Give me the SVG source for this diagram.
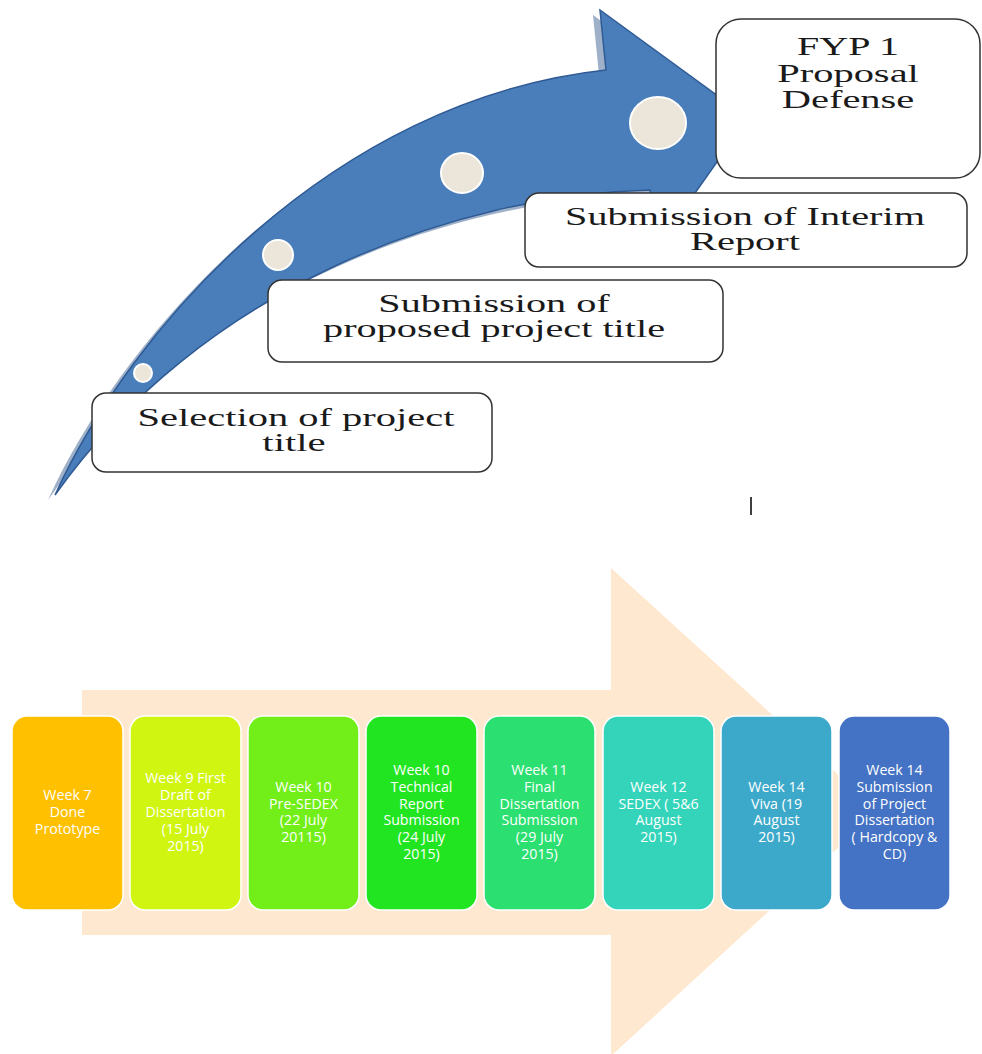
<svg xmlns="http://www.w3.org/2000/svg" width="982" height="1054" viewBox="0 0 982 1054">
<style>
.tb{fill:#ffffff;stroke:#333333;stroke-width:1.5}
.st{font-family:"Liberation Serif","Times New Roman",serif;font-size:25px;fill:#1a1a1a;text-anchor:middle}
.wb{stroke:#ffffff;stroke-width:1.5}
.wt{font-family:"Open Sans","Liberation Sans",sans-serif;font-size:14.2px;fill:#ffffff;text-anchor:middle}
.dot{fill:#ece6da;stroke:#ffffff;stroke-width:2}
</style>
<rect width="982" height="1054" fill="#ffffff"/>
<g id="blue-arrow">
<path transform="translate(-7,5)" d="M55,495 C130,330 330,100 606,70 L600,10 L748,118 L662,240 L650,190 C450,195 200,290 55,495 Z" fill="#9eb1c9"/>
<path d="M55,495 C130,330 330,100 606,70 L600,10 L748,118 L662,240 L650,190 C450,195 200,290 55,495 Z" fill="#4a7ebb" stroke="#2f5a94" stroke-width="1.5"/>
<ellipse class="dot" cx="658" cy="123" rx="28" ry="26"/>
<ellipse class="dot" cx="462" cy="173" rx="21" ry="20"/>
<ellipse class="dot" cx="278" cy="255" rx="15" ry="15"/>
<ellipse class="dot" cx="143" cy="373" rx="9" ry="9"/>
</g>
<g id="node-fyp1">
<rect class="tb" x="716" y="19" width="264" height="159" rx="25"/>
<text class="st" transform="translate(848,55) scale(1.6,1)">FYP 1</text>
<text class="st" transform="translate(848,82) scale(1.62,1)">Proposal</text>
<text class="st" transform="translate(848,108) scale(1.62,1)">Defense</text>
</g>
<g id="node-interim">
<rect class="tb" x="525" y="193" width="442" height="74" rx="14"/>
<text class="st" transform="translate(745,225) scale(1.61,1)">Submission of Interim</text>
<text class="st" transform="translate(745,250) scale(1.62,1)">Report</text>
</g>
<g id="node-proposed">
<rect class="tb" x="268" y="280" width="455" height="82" rx="14"/>
<text class="st" transform="translate(494,312) scale(1.61,1)">Submission of</text>
<text class="st" transform="translate(494,337) scale(1.61,1)">proposed project title</text>
</g>
<g id="node-selection">
<rect class="tb" x="92" y="393" width="400" height="79" rx="14"/>
<text class="st" transform="translate(296,426) scale(1.62,1)">Selection of project</text>
<text class="st" transform="translate(294,451) scale(1.63,1)">title</text>
</g>
<line x1="751" y1="497" x2="751" y2="515" stroke="#000000" stroke-width="1.5"/>
<g id="peach-arrow">
<path d="M82,690 L611,690 L611,568 L878,811 L611,1056 L611,935 L82,935 Z" fill="#fee8cf"/>
</g>
<g id="node-w7">
<rect class="wb" x="12" y="716" width="111" height="194" rx="15" fill="#ffc000"/>
<text class="wt"><tspan x="67.5" y="800">Week 7</tspan><tspan x="67.5" y="817">Done</tspan><tspan x="67.5" y="834">Prototype</tspan></text>
</g>
<g id="node-w9">
<rect class="wb" x="130" y="716" width="111" height="194" rx="15" fill="#d0f510"/>
<text class="wt"><tspan x="185.5" y="783.4">Week 9 First</tspan><tspan x="185.5" y="800.2">Draft of</tspan><tspan x="185.5" y="817">Dissertation</tspan><tspan x="185.5" y="833.8">(15 July</tspan><tspan x="185.5" y="850.6">2015)</tspan></text>
</g>
<g id="node-w10a">
<rect class="wb" x="248" y="716" width="111" height="194" rx="15" fill="#72ee18"/>
<text class="wt"><tspan x="303.5" y="791.8">Week 10</tspan><tspan x="303.5" y="808.6">Pre-SEDEX</tspan><tspan x="303.5" y="825.4">(22 July</tspan><tspan x="303.5" y="842.2">20115)</tspan></text>
</g>
<g id="node-w10b">
<rect class="wb" x="366" y="716" width="111" height="194" rx="15" fill="#22e522"/>
<text class="wt"><tspan x="421.5" y="775">Week 10</tspan><tspan x="421.5" y="791.8">Technical</tspan><tspan x="421.5" y="808.6">Report</tspan><tspan x="421.5" y="825.4">Submission</tspan><tspan x="421.5" y="842.2">(24 July</tspan><tspan x="421.5" y="859">2015)</tspan></text>
</g>
<g id="node-w11">
<rect class="wb" x="484" y="716" width="111" height="194" rx="15" fill="#2be070"/>
<text class="wt"><tspan x="539.5" y="775">Week 11</tspan><tspan x="539.5" y="791.8">Final</tspan><tspan x="539.5" y="808.6">Dissertation</tspan><tspan x="539.5" y="825.4">Submission</tspan><tspan x="539.5" y="842.2">(29 July</tspan><tspan x="539.5" y="859">2015)</tspan></text>
</g>
<g id="node-w12">
<rect class="wb" x="603" y="716" width="111" height="194" rx="15" fill="#33d4b9"/>
<text class="wt"><tspan x="658.5" y="791.8">Week 12</tspan><tspan x="658.5" y="808.6">SEDEX ( 5&amp;6</tspan><tspan x="658.5" y="825.4">August</tspan><tspan x="658.5" y="842.2">2015)</tspan></text>
</g>
<g id="node-w14a">
<rect class="wb" x="721" y="716" width="111" height="194" rx="15" fill="#3da9ca"/>
<text class="wt"><tspan x="776.5" y="791.8">Week 14</tspan><tspan x="776.5" y="808.6">Viva (19</tspan><tspan x="776.5" y="825.4">August</tspan><tspan x="776.5" y="842.2">2015)</tspan></text>
</g>
<g id="node-w14b">
<rect class="wb" x="839" y="716" width="111" height="194" rx="15" fill="#4472c4"/>
<text class="wt"><tspan x="894.5" y="775">Week 14</tspan><tspan x="894.5" y="791.8">Submission</tspan><tspan x="894.5" y="808.6">of Project</tspan><tspan x="894.5" y="825.4">Dissertation</tspan><tspan x="894.5" y="842.2">( Hardcopy &amp;</tspan><tspan x="894.5" y="859">CD)</tspan></text>
</g>
<g id="connectors"/>
</svg>
